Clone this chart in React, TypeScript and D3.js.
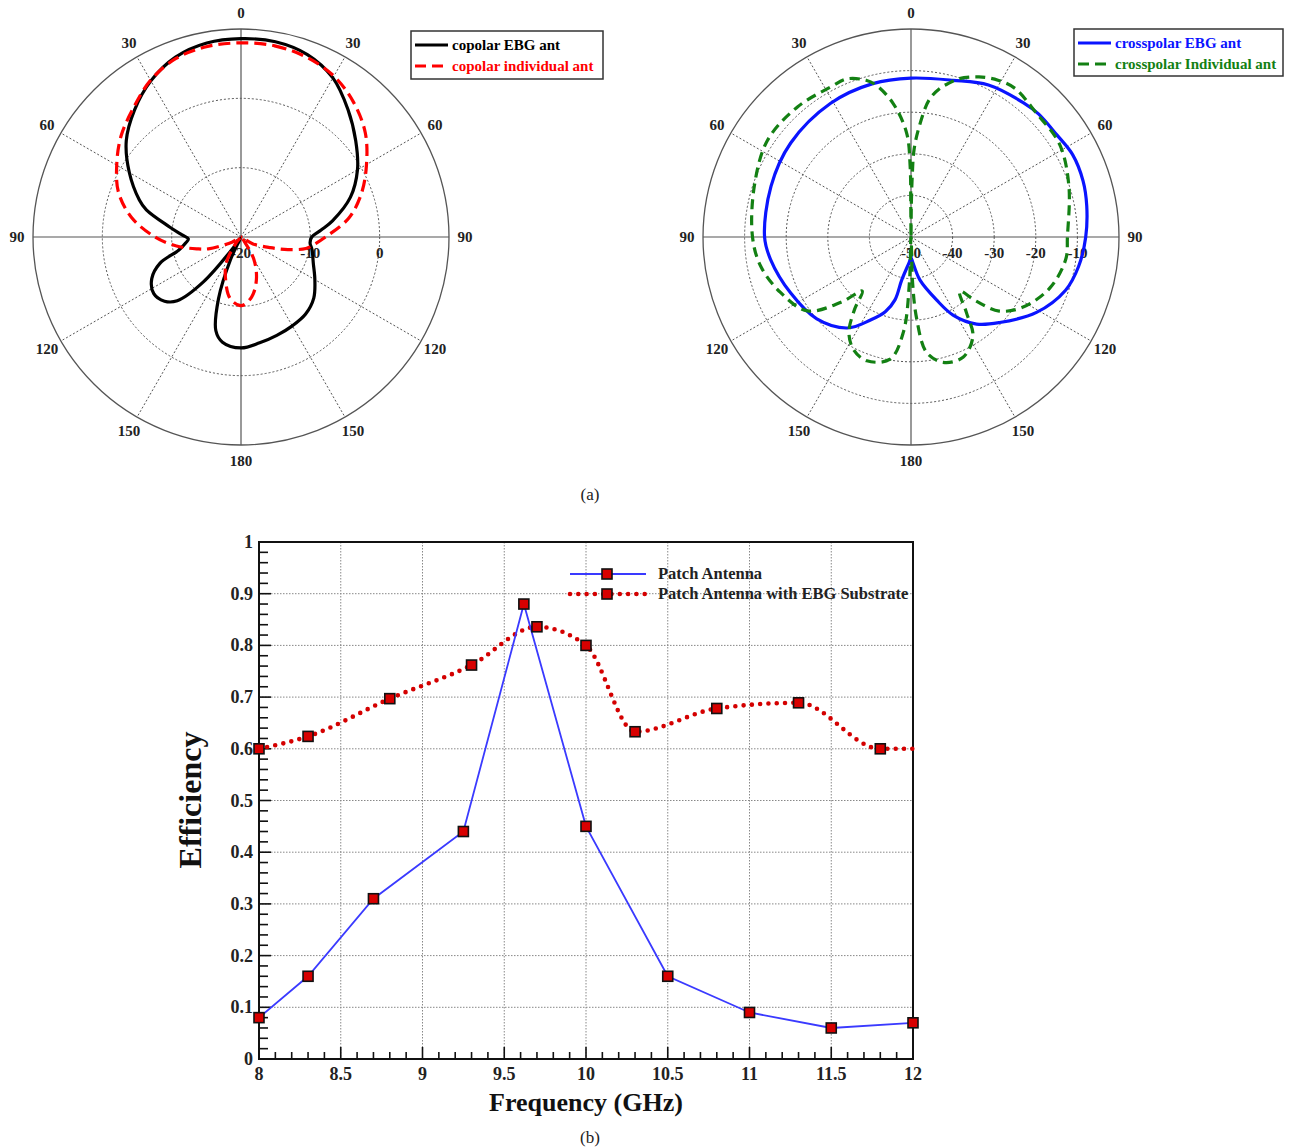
import React from "react";
import * as d3 from "d3";

const FONT = "'Liberation Serif', 'Times New Roman', serif";

// (a) radiation patterns: angle in degrees (clockwise from 0), gain in dB
const copolarEbgAngle = [0, 10, 20, 30, 40, 50, 60, 70, 80, 85, 90, 95, 100, 110, 120, 130, 140, 150, 160, 170, 180, 190, 195, 200, 205, 210, 215, 220, 225, 230, 237, 245, 252, 258, 264, 268, 272, 278, 286, 290, 300, 310, 320, 330, 340, 350];
const copolarEbgDb = [8.6, 8.6, 8.0, 6.5, 4.0, 1.6, -0.6, -3.2, -6.6, -8.4, -9.8, -10.0, -9.6, -8.9, -7.7, -6.3, -5.5, -5.2, -4.9, -4.5, -4.0, -4.6, -6.0, -10.5, -16.5, -19.8, -18.5, -11.5, -7.0, -5.6, -5.0, -5.8, -7.7, -10.8, -12.0, -12.4, -11.5, -9.6, -5.8, -4.4, -1.4, 1.6, 3.9, 6.0, 7.6, 8.4];

const copolarIndAngle = [0, 10, 20, 30, 40, 50, 60, 70, 80, 90, 95, 100, 105, 110, 120, 130, 140, 150, 160, 170, 180, 190, 200, 210, 220, 230, 240, 250, 255, 262, 270, 280, 290, 300, 310, 320, 330, 340, 350];
const copolarIndDb = [8.0, 8.0, 7.6, 6.8, 5.3, 3.4, 0.9, -1.5, -4.2, -7.8, -9.2, -10.5, -13.0, -15.5, -18.0, -19.8, -19.5, -16.3, -13.5, -11.2, -10.1, -11.0, -13.5, -15.8, -19.0, -20.0, -18.5, -15.0, -13.4, -10.6, -7.6, -4.0, -1.2, 0.7, 2.6, 4.2, 6.1, 7.4, 7.9];

const crossEbgAngle = [0, 15, 27, 40, 46, 55, 63, 72, 80, 90, 100, 109, 121, 134, 143, 151.7, 157.8, 168.2, 176, 180, 184, 192.2, 194.3, 199, 206, 215, 229, 245, 261, 270, 290, 308, 329, 346];
const crossEbgDb = [-11.8, -11.0, -9.0, -7.9, -7.4, -7.2, -6.4, -6.5, -7.1, -8.0, -9.1, -10.7, -14.8, -20.4, -23.8, -28.7, -33.6, -39.4, -43.9, -45.0, -43.9, -39.4, -34.4, -31.0, -27.8, -23.3, -20.0, -18.1, -15.8, -14.8, -14.2, -13.3, -12.5, -12.0];

const crossIndAngle = [0, 0.6, 1.2, 2, 4.2, 7.5, 11, 13.9, 17, 23, 29, 35, 45, 58, 72, 90, 98, 110, 122, 130, 134.5, 138, 143.8, 148, 156.6, 165.6, 172.3, 176, 178, 180, 182, 184.6, 189.7, 199.6, 207, 213, 218, 222, 227, 234.5, 247, 259, 270, 288, 304, 319, 332, 338, 344, 347, 352.3, 357.6, 359.3, 359.6];
const crossIndDb = [-50, -42, -35, -29, -23.5, -16.8, -13.6, -11.9, -10.2, -8.2, -6.9, -6.4, -7.6, -7.9, -10.1, -12.4, -12.4, -14.4, -18.2, -22.3, -28.0, -32.5, -27.4, -21.9, -18.5, -18.9, -22.0, -30.2, -39, -50, -39, -27.0, -20.2, -18.4, -19.6, -22.6, -28.0, -32.5, -27.0, -19.4, -15.9, -13.2, -11.9, -10.4, -8.4, -8.5, -9.1, -9.0, -10.8, -12.5, -17.5, -25.0, -33, -42];

const angleLabels = ["0", "30", "60", "90", "120", "150", "180", "150", "120", "90", "60", "30"];
const coRingTicks = [-20, -10, 0];
const crossRingTicks = [-50, -40, -30, -20, -10];

// (b) efficiency vs frequency
const patchFreq = [8, 8.3, 8.7, 9.25, 9.62, 10, 10.5, 11, 11.5, 12];
const patchEff = [0.08, 0.16, 0.31, 0.44, 0.88, 0.45, 0.16, 0.09, 0.06, 0.07];
const ebgFreq = [8, 8.3, 8.8, 9.3, 9.7, 10, 10.3, 10.8, 11.3, 11.8, 12];
const ebgEff = [0.6, 0.624, 0.697, 0.762, 0.836, 0.8, 0.633, 0.678, 0.689, 0.6, 0.6];
const freqLabels = [8, 8.5, 9, 9.5, 10, 10.5, 11, 11.5, 12];
const effLabels = [0, 0.1, 0.2, 0.3, 0.4, 0.5, 0.6, 0.7, 0.8, 0.9, 1];

type Series = { angle: number[]; db: number[]; color: string; dash?: string; label: string };

function PolarPlot({ cx, cy, domain, ringTicks, series, legend }: {
  cx: number; cy: number; domain: [number, number]; ringTicks: number[]; series: Series[];
  legend: { x: number; y: number; w: number; h: number };
}) {
  const R = 208;
  const r = d3.scaleLinear().domain(domain).range([0, R]).clamp(true);
  const rings = ringTicks.slice(1);
  const line = d3.lineRadial<[number, number]>()
    .angle((d) => (d[0] * Math.PI) / 180)
    .radius((d) => r(d[1]))
    .curve(d3.curveCatmullRomClosed.alpha(0.5));
  const spokes = d3.range(0, 360, 30);
  return (
    <g>
      <g transform={`translate(${cx},${cy})`}>
        {rings.map((t) => (
          <circle key={t} r={r(t)} fill="none" stroke="#555" strokeWidth={1} strokeDasharray="2 2" />
        ))}
        {spokes.filter((a) => a % 90 !== 0).map((a) => (
          <line key={a} x1={0} y1={0} x2={R * Math.sin((a * Math.PI) / 180)} y2={-R * Math.cos((a * Math.PI) / 180)}
            stroke="#555" strokeWidth={1} strokeDasharray="2 2" />
        ))}
        <line x1={-R} x2={R} y1={0} y2={0} stroke="#555" strokeWidth={1.2} />
        <line x1={0} x2={0} y1={-R} y2={R} stroke="#555" strokeWidth={1.2} />
        <circle r={R} fill="none" stroke="#555" strokeWidth={1.3} />
        {ringTicks.map((t) => (
          <text key={t} x={r(t)} y={21} textAnchor="middle" fontFamily={FONT} fontWeight="bold" fontSize={15} fill="#222">{t}</text>
        ))}
        {spokes.map((a, i) => (
          <text key={a} x={224 * Math.sin((a * Math.PI) / 180)} y={-224 * Math.cos((a * Math.PI) / 180)}
            textAnchor="middle" dominantBaseline="central" fontFamily={FONT} fontWeight="bold" fontSize={15} fill="#222">
            {angleLabels[i]}
          </text>
        ))}
        {series.map((s) => (
          <path key={s.label} d={line(s.angle.map((a, i) => [a, s.db[i]] as [number, number])) || ""}
            fill="none" stroke={s.color} strokeWidth={3.2} strokeDasharray={s.dash} strokeLinejoin="round" />
        ))}
      </g>
      <rect x={legend.x} y={legend.y} width={legend.w} height={legend.h} fill="#fff" stroke="#333" strokeWidth={1.5} />
      {series.map((s, i) => (
        <g key={s.label} transform={`translate(${legend.x},${legend.y + 14 + i * 21})`}>
          <line x1={4} x2={37} y1={0} y2={0} stroke={s.color} strokeWidth={3.2} strokeDasharray={s.dash ? "11 6" : undefined} />
          <text x={41} y={5} fontFamily={FONT} fontWeight="bold" fontSize={15} fill={s.color}>{s.label}</text>
        </g>
      ))}
    </g>
  );
}

function EfficiencyChart() {
  const left = 259, right = 913, top = 542, bottom = 1059;
  const x = d3.scaleLinear().domain([8, 12]).range([left, right]);
  const y = d3.scaleLinear().domain([0, 1]).range([bottom, top]);
  const patchLine = d3.line<number>().x((_, i) => x(patchFreq[i])).y((d) => y(d));
  const ebgLine = d3.line<number>().x((_, i) => x(ebgFreq[i])).y((d) => y(d)).curve(d3.curveMonotoneX);
  const xMinor = x.ticks(40);
  const yMinor = y.ticks(50);
  const marker = (px: number, py: number, key: string) => (
    <rect key={key} x={px - 5} y={py - 5} width={10} height={10} fill="#d80000" stroke="#111" strokeWidth={1.6} />
  );
  return (
    <g>
      {freqLabels.slice(1, -1).map((f) => (
        <line key={f} x1={x(f)} x2={x(f)} y1={top} y2={bottom} stroke="#888" strokeWidth={1} strokeDasharray="1.5 1.5" />
      ))}
      {effLabels.slice(1, -1).map((e) => (
        <line key={e} x1={left} x2={right} y1={y(e)} y2={y(e)} stroke="#888" strokeWidth={1} strokeDasharray="1.5 1.5" />
      ))}
      {xMinor.map((f) => {
        const major = Math.abs(f * 2 - Math.round(f * 2)) < 1e-6;
        return <line key={f} x1={x(f)} x2={x(f)} y1={bottom} y2={bottom - (major ? 12 : 7)} stroke="#111" strokeWidth={1.6} />;
      })}
      {yMinor.map((e) => {
        const major = Math.abs(e * 10 - Math.round(e * 10)) < 1e-6;
        return <line key={e} x1={left} x2={left + (major ? 12 : 9)} y1={y(e)} y2={y(e)} stroke="#111" strokeWidth={1.6} />;
      })}
      <rect x={left} y={top} width={right - left} height={bottom - top} fill="none" stroke="#111" strokeWidth={2} />
      {freqLabels.map((f) => (
        <text key={f} x={x(f)} y={bottom + 21} textAnchor="middle" fontFamily={FONT} fontWeight="bold" fontSize={18} fill="#222">{f}</text>
      ))}
      {effLabels.map((e) => (
        <text key={e} x={left - 6} y={y(e) + 6} textAnchor="end" fontFamily={FONT} fontWeight="bold" fontSize={18} fill="#222">{e}</text>
      ))}
      <text x={586} y={1111} textAnchor="middle" fontFamily={FONT} fontWeight="bold" fontSize={26} fill="#111">Frequency (GHz)</text>
      <text transform="translate(201,800) rotate(-90)" textAnchor="middle" fontFamily={FONT} fontWeight="bold" fontSize={32} fill="#111">Efficiency</text>

      <path d={ebgLine(ebgEff) || ""} fill="none" stroke="#d40000" strokeWidth={4.6} strokeDasharray="0 8.3" strokeLinecap="round" />
      <path d={patchLine(patchEff) || ""} fill="none" stroke="#3a3aff" strokeWidth={1.8} />
      {patchEff.map((e, i) => marker(x(patchFreq[i]), y(e), `p${i}`))}
      {ebgEff.slice(0, -1).map((e, i) => marker(x(ebgFreq[i]), y(e), `e${i}`))}

      <line x1={570} x2={646} y1={574} y2={574} stroke="#3a3aff" strokeWidth={1.8} />
      {marker(607, 574, "l1")}
      <line x1={570} x2={646} y1={594} y2={594} stroke="#d40000" strokeWidth={4.6} strokeDasharray="0 8.3" strokeLinecap="round" />
      {marker(607, 594, "l2")}
      <text x={658} y={579} fontFamily={FONT} fontWeight="bold" fontSize={16.5} fill="#222">Patch Antenna</text>
      <text x={658} y={599} fontFamily={FONT} fontWeight="bold" fontSize={16.5} fill="#222">Patch Antenna with EBG Substrate</text>
    </g>
  );
}

export default function App() {
  const coSeries: Series[] = [
    { angle: copolarEbgAngle, db: copolarEbgDb, color: "#000", label: "copolar EBG ant" },
    { angle: copolarIndAngle, db: copolarIndDb, color: "#ff0000", dash: "12 6", label: "copolar individual ant" },
  ];
  const crossSeries: Series[] = [
    { angle: crossEbgAngle, db: crossEbgDb, color: "#0a14ff", label: "crosspolar EBG ant" },
    { angle: crossIndAngle, db: crossIndDb, color: "#138013", dash: "10 6", label: "crosspolar Individual ant" },
  ];
  return (
    <svg width={1290} height={1148} style={{ position: "absolute", left: 0, top: 0, background: "#fff" }}>
      <PolarPlot cx={241} cy={237} domain={[-20, 10]} ringTicks={coRingTicks} series={coSeries}
        legend={{ x: 411, y: 31, w: 192, h: 48 }} />
      <PolarPlot cx={911} cy={237} domain={[-50, 0]} ringTicks={crossRingTicks} series={crossSeries}
        legend={{ x: 1074, y: 29, w: 209, h: 47 }} />
      <text x={590} y={500} textAnchor="middle" fontFamily={FONT} fontSize={17} fill="#222">(a)</text>
      <EfficiencyChart />
      <text x={590} y={1143} textAnchor="middle" fontFamily={FONT} fontSize={17} fill="#222">(b)</text>
    </svg>
  );
}
